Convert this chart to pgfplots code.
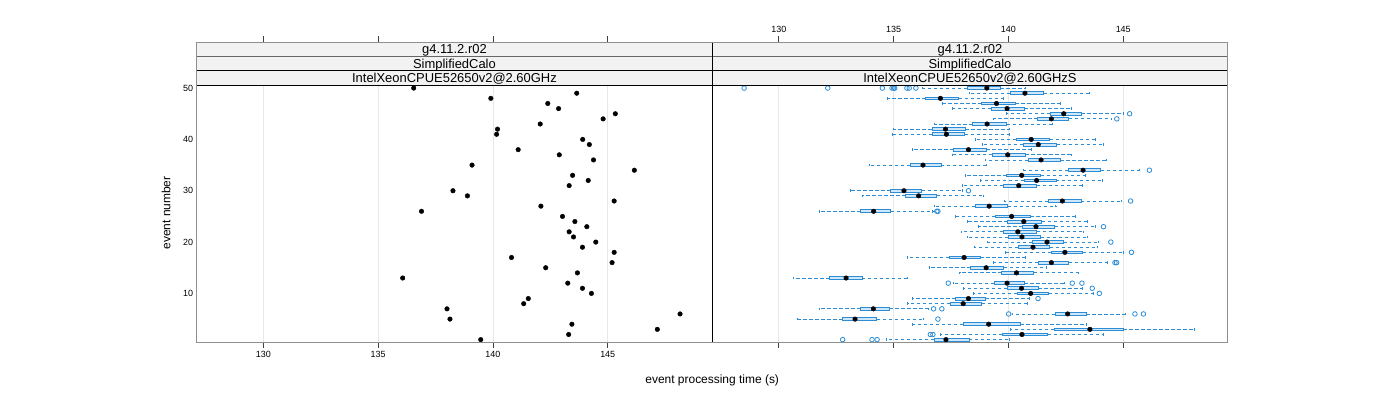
\documentclass[border=0pt]{standalone}
\usepackage{fontspec}
\setmainfont{Liberation Sans}
\usepackage{pgfplots}
\pgfplotsset{compat=1.18}
\usepgfplotslibrary{statistics}
\definecolor{bwblue}{HTML}{2C8DD6}
\definecolor{bwfill}{HTML}{CFE7F8}
\definecolor{framegray}{HTML}{8F8F8F}
\definecolor{gridgray}{HTML}{E8E8E8}
\definecolor{stripgray}{HTML}{F2F2F2}
\pgfplotsset{
  panel/.style={scale only axis, width=515.5bp, height=257.7bp,
    xmin=127.1, xmax=149.55, ymin=0.4, ymax=50.6,
    xtick={130,135,140,145}, xmajorgrids,
    major grid style={gridgray, line width=0.8bp},
    axis line style={framegray, line width=1.2bp},
    xtick pos=left, xtick align=outside, major tick length=5bp,
    xtick style={black!75, line width=0.8bp},
    ticklabel style={font=\fontsize{9}{11}\selectfont},
    /pgf/number format/assume math mode=true},
  topticks/.style={scale only axis, width=515.5bp, height=300.4bp,
    xmin=127.1, xmax=149.55, ymin=0, ymax=1, ytick=\empty,
    xtick={130,135,140,145}, xtick pos=right, xticklabel pos=right,
    xtick align=outside, major tick length=6bp,
    axis line style={draw=none},
    xtick style={black!75, line width=0.8bp},
    ticklabel style={font=\fontsize{9}{11}\selectfont},
    /pgf/number format/assume math mode=true},
  bx/.style={solid, mark=none, boxplot/draw direction=x,
    boxplot/box extend=0.55, boxplot/whisker extend=0.5,
    boxplot/every box/.style={draw=bwblue, fill=bwfill, line width=0.8bp, solid},
    boxplot/every whisker/.style={draw=bwblue, line width=0.8bp, dash pattern=on 3.5bp off 2.5bp},
    boxplot/every median/.style={draw=none}}
}
\newcommand{\bx}[6]{\addplot[bx, boxplot prepared={draw position=#1, lower whisker=#2, lower quartile=#3, median=#4, upper quartile=#5, upper whisker=#6}] coordinates {};}
\begin{document}
\begin{tikzpicture}
\useasboundingbox (0,0) rectangle (1400bp,400bp);
% left panel
\begin{axis}[panel, at={(196.7bp,57.3bp)}, anchor=south west,
  ytick={10,20,30,40,50}, ytick style={draw=none}]
\addplot[only marks, mark=*, mark size=2.3bp, black] coordinates {
(139.47,1) (143.30,2) (147.16,3) (143.44,4) (138.13,5) (148.15,6) (138.00,7) (141.34,8) (141.54,9) (144.29,10)
(143.90,11) (143.26,12) (136.07,13) (143.68,14) (142.30,15) (145.19,16) (140.81,17) (145.28,18) (143.90,19) (144.48,20)
(143.51,21) (143.32,22) (144.09,23) (143.57,24) (143.03,25) (136.89,26) (142.09,27) (145.28,28) (138.89,29) (138.26,30)
(143.32,31) (144.15,32) (143.47,33) (146.16,34) (139.09,35) (144.38,36) (142.89,37) (141.10,38) (144.20,39) (143.91,40)
(140.16,41) (140.20,42) (142.06,43) (144.80,44) (145.33,45) (142.86,46) (142.39,47) (139.91,48) (143.65,49) (136.55,50)};
\end{axis}
% right panel
\begin{axis}[panel, at={(712.2bp,57.3bp)}, anchor=south west,
  ytick=\empty, xticklabels={}]
\bx{50}{136.25}{138.20}{139.06}{139.65}{140.72}
\bx{49}{138.32}{140.09}{140.72}{141.54}{143.52}
\bx{48}{134.71}{136.39}{137.04}{137.84}{139.78}
\bx{47}{137.13}{138.83}{139.48}{140.30}{142.28}
\bx{46}{137.57}{139.26}{139.94}{140.70}{142.74}
\bx{45}{139.90}{141.83}{142.41}{143.17}{145.00}
\bx{44}{139.35}{141.28}{141.87}{142.62}{144.50}
\bx{43}{136.78}{138.45}{139.07}{139.93}{141.93}
\bx{42}{135.00}{136.67}{137.26}{138.13}{140.06}
\bx{41}{134.96}{136.68}{137.30}{138.10}{140.06}
\bx{40}{138.55}{140.33}{140.99}{141.80}{143.80}
\bx{39}{138.87}{140.65}{141.30}{142.10}{144.13}
\bx{38}{135.83}{137.62}{138.26}{139.04}{140.99}
\bx{37}{137.57}{139.30}{139.97}{140.74}{142.74}
\bx{36}{139.00}{140.87}{141.42}{142.26}{144.26}
\bx{35}{133.94}{135.72}{136.28}{137.06}{139.03}
\bx{34}{140.65}{142.61}{143.25}{144.01}{145.70}
\bx{33}{138.13}{139.93}{140.58}{141.41}{143.35}
\bx{32}{138.78}{140.68}{141.23}{142.07}{144.09}
\bx{31}{138.00}{139.78}{140.45}{141.23}{143.22}
\bx{30}{133.13}{134.88}{135.45}{136.22}{138.00}
\bx{29}{133.65}{135.52}{136.09}{136.88}{138.91}
\bx{28}{139.83}{141.74}{142.35}{143.16}{144.90}
\bx{27}{136.78}{138.55}{139.16}{139.96}{142.06}
\bx{26}{131.77}{133.57}{134.13}{134.87}{136.70}
\bx{25}{137.71}{139.43}{140.14}{140.96}{142.93}
\bx{24}{138.22}{139.96}{140.67}{141.45}{143.43}
\bx{23}{138.70}{140.62}{141.20}{142.01}{143.80}
\bx{22}{137.97}{139.77}{140.41}{141.23}{143.26}
\bx{21}{138.22}{140.00}{140.59}{141.41}{143.43}
\bx{20}{139.09}{141.03}{141.68}{142.41}{143.90}
\bx{19}{138.52}{140.43}{141.07}{141.80}{143.87}
\bx{18}{139.86}{141.87}{142.46}{143.23}{145.00}
\bx{17}{135.62}{137.43}{138.07}{138.78}{140.74}
\bx{16}{139.33}{141.30}{141.87}{142.62}{144.30}
\bx{15}{136.57}{138.35}{139.03}{139.80}{141.67}
\bx{14}{137.87}{139.70}{140.35}{141.10}{143.06}
\bx{13}{130.62}{132.22}{132.93}{133.62}{135.58}
\bx{12}{137.62}{139.39}{139.94}{140.70}{142.45}
\bx{11}{138.06}{139.94}{140.57}{141.30}{143.23}
\bx{10}{138.49}{140.38}{140.97}{141.75}{143.70}
\bx{9}{135.83}{137.70}{138.26}{139.00}{140.90}
\bx{8}{135.62}{137.46}{138.03}{138.83}{140.84}
\bx{7}{131.75}{133.57}{134.12}{134.81}{136.50}
\bx{6}{140.17}{142.04}{142.58}{143.38}{145.10}
\bx{5}{130.83}{132.78}{133.32}{134.26}{136.30}
\bx{4}{135.83}{138.04}{139.14}{140.51}{143.38}
\bx{3}{140.07}{142.00}{143.55}{144.99}{148.09}
\bx{2}{137.03}{139.74}{140.59}{141.71}{144.13}
\bx{1}{134.68}{136.77}{137.28}{138.28}{140.04}
% outliers
\addplot[only marks, mark=o, mark size=2.3bp, bwblue, line width=0.8bp] coordinates {
(128.49,50) (132.13,50) (134.51,50) (134.93,50) (135.00,50) (135.05,50) (135.58,50) (135.68,50) (135.97,50)
(145.28,45) (144.72,44) (146.14,34) (138.26,30) (145.32,28) (136.88,26) (136.93,26) (144.14,23) (144.46,20)
(145.36,18) (144.64,16) (144.71,16) (137.38,12) (142.78,12) (143.20,12) (143.65,11) (143.96,10) (141.29,9)
(136.74,7) (137.10,7) (140.01,6) (145.51,6) (145.88,6) (136.93,5) (136.60,2) (136.71,2) (132.78,1) (134.06,1) (134.28,1)};
% medians
\addplot[only marks, mark=*, mark size=2.3bp, black] coordinates {
(139.06,50) (140.72,49) (137.04,48) (139.48,47) (139.94,46) (142.41,45) (141.87,44) (139.07,43) (137.26,42) (137.30,41)
(140.99,40) (141.30,39) (138.26,38) (139.97,37) (141.42,36) (136.28,35) (143.25,34) (140.58,33) (141.23,32) (140.45,31)
(135.45,30) (136.09,29) (142.35,28) (139.16,27) (134.13,26) (140.14,25) (140.67,24) (141.20,23) (140.41,22) (140.59,21)
(141.68,20) (141.07,19) (142.46,18) (138.07,17) (141.87,16) (139.03,15) (140.35,14) (132.93,13) (139.94,12) (140.57,11)
(140.97,10) (138.26,9) (138.03,8) (134.12,7) (142.58,6) (133.32,5) (139.14,4) (143.55,3) (140.59,2) (137.28,1)};
\end{axis}
% top ticks
\begin{axis}[topticks, at={(196.7bp,57.3bp)}, anchor=south west, xticklabels={}]
\end{axis}
\begin{axis}[topticks, at={(712.2bp,57.3bp)}, anchor=south west]
\end{axis}
% strips
\fill[stripgray] (196.7bp,315bp) rectangle (1227.7bp,357.7bp);
\draw[black, line width=0.8bp] (196.7bp,315bp) -- (1227.7bp,315bp);
\draw[black, line width=0.8bp] (196.7bp,329.2bp) -- (1227.7bp,329.2bp);
\draw[black!60, line width=0.8bp] (196.7bp,343.5bp) -- (1227.7bp,343.5bp);
\draw[black, line width=0.8bp] (712.2bp,57.3bp) -- (712.2bp,357.7bp);
\draw[framegray, line width=1.2bp] (196.7bp,57.3bp) rectangle (1227.7bp,357.7bp);
\begin{scope}[every node/.style={font=\fontsize{13}{15}\selectfont, inner sep=0pt, anchor=base}]
\node at (454.45bp,346.0bp) {g4.11.2.r02};
\node at (454.45bp,331.8bp) {SimplifiedCalo};
\node at (454.45bp,317.6bp) {IntelXeonCPUE52650v2@2.60GHz};
\node at (969.95bp,346.0bp) {g4.11.2.r02};
\node at (969.95bp,331.8bp) {SimplifiedCalo};
\node at (969.95bp,317.6bp) {IntelXeonCPUE52650v2@2.60GHzS};
\end{scope}
\node[font=\fontsize{12}{14}\selectfont] at (712.2bp,20bp) {event processing time (s)};
\node[font=\fontsize{12}{14}\selectfont, rotate=90] at (166bp,187bp) {event number};
\end{tikzpicture}
\end{document}
